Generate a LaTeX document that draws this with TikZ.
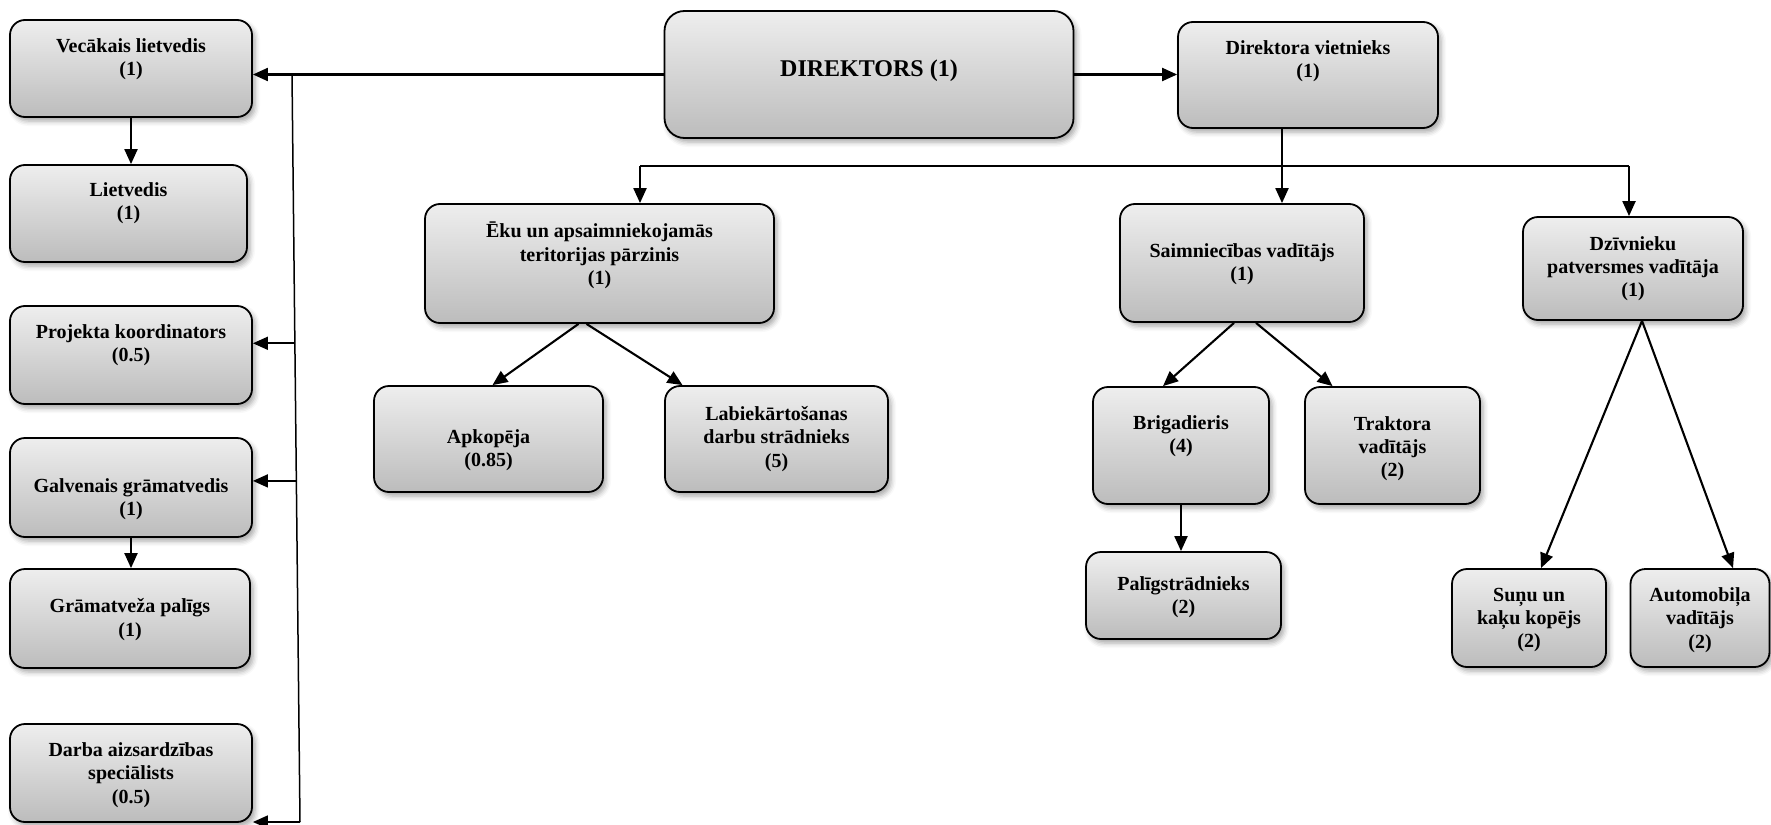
\documentclass[tikz,border=0pt]{standalone}
\usepackage{fontspec}
\setmainfont{Liberation Serif}
\usetikzlibrary{arrows.meta, shadows.blur, calc}

\definecolor{boxtop}{RGB}{238,238,238}
\definecolor{boxbottom}{RGB}{188,188,188}

\begin{document}
\begin{tikzpicture}[x=1pt,y=-1pt,>={Triangle[length=15pt,width=13pt]},
  org box/.style={draw,line width=1.8pt,rounded corners=15pt,top color=boxtop,bottom color=boxbottom,
    inner sep=0pt,blur shadow={shadow xshift=3pt,shadow yshift=-4pt,shadow blur radius=5pt,shadow opacity=35}},
  every label/.style={align=center,inner sep=0pt,font=\bfseries\fontsize{20}{23.3}\selectfont},
  conn/.style={->,line width=2.1pt},
  bus/.style={line width=1.5pt}]
  \useasboundingbox (0,0) rectangle (1771,824);

  % left column
  \node[org box,minimum width=242,minimum height=97,label={[yshift=9pt]center:{Vecākais lietvedis\\(1)}}] (vec) at (131,68.5) {};
  \node[org box,minimum width=237,minimum height=97,label={[yshift=10pt]center:{Lietvedis\\(1)}}] (lie) at (128.5,213.5) {};
  \node[org box,minimum width=242,minimum height=98,label={[yshift=10pt]center:{Projekta koordinators\\(0.5)}}] (prj) at (131,355) {};
  \node[org box,minimum width=242,minimum height=99,label={[yshift=-12pt]center:{Galvenais grāmatvedis\\(1)}}] (gal) at (131,487.5) {};
  \node[org box,minimum width=240,minimum height=99,label={[yshift=-1pt]center:{Grāmatveža palīgs\\(1)}}] (gra) at (130,618.5) {};
  \node[org box,minimum width=242,minimum height=98,label={[yshift=-2pt]center:{Darba aizsardzības\\speciālists\\(0.5)}}] (dar) at (131,773) {};

  % top
  \node[org box,minimum width=409,minimum height=127,rounded corners=20pt,
    label={[yshift=4pt,font=\bfseries\fontsize{24}{28}\selectfont]center:{DIREKTORS (1)}}] (dir) at (869,74.5) {};
  \node[org box,minimum width=260,minimum height=106,label={[yshift=14pt]center:{Direktora vietnieks\\(1)}}] (vie) at (1308,75) {};

  % second level
  \node[org box,minimum width=349,minimum height=119,label={[yshift=8pt]center:{Ēku un apsaimniekojamās\\teritorijas pārzinis\\(1)}}] (eku) at (599.5,263.5) {};
  \node[org box,minimum width=244,minimum height=118,label={[yshift=-1pt]center:{Saimniecības vadītājs\\(1)}}] (sai) at (1242,263) {};
  \node[org box,minimum width=220,minimum height=103,label={center:{Dzīvnieku\\patversmes vadītāja\\(1)}}] (dzi) at (1633,268.5) {};

  % third level
  \node[org box,minimum width=229,minimum height=106,label={[yshift=-11pt]center:{Apkopēja\\(0.85)}}] (apk) at (488.5,439) {};
  \node[org box,minimum width=223,minimum height=106,label={center:{Labiekārtošanas\\darbu strādnieks\\(5)}}] (lab) at (776.5,439) {};
  \node[org box,minimum width=176,minimum height=117,label={[yshift=9pt]center:{Brigadieris\\(4)}}] (bri) at (1181,445.5) {};
  \node[org box,minimum width=175,minimum height=117,label={[yshift=-3pt]center:{Traktora\\vadītājs\\(2)}}] (tra) at (1392.5,445.5) {};
  \node[org box,minimum width=195,minimum height=87,label={[yshift=-2pt]center:{Palīgstrādnieks\\(2)}}] (pal) at (1183.5,595.5) {};
  \node[org box,minimum width=154,minimum height=98,label={[yshift=-2pt]center:{Suņu un\\kaķu kopējs\\(2)}}] (sun) at (1529,618) {};
  \node[org box,minimum width=139,minimum height=98,label={[yshift=-2pt]center:{Automobiļa\\vadītājs\\(2)}}] (aut) at (1700,618) {};

  % left bus
  \coordinate (bustop) at (292,74);
  \coordinate (busbot) at (300,822);
  \coordinate (b1) at ($(bustop)!0.36!(busbot)$);
  \coordinate (b2) at ($(bustop)!0.544!(busbot)$);
  \draw[conn] (dir.west) -- (vec.east |- dir.west);
  \draw[bus] (bustop) -- (busbot);
  \draw[conn,line width=1.6pt] (b1) -- (b1 -| prj.east);
  \draw[conn,line width=1.6pt] (b2) -- (b2 -| gal.east);
  \draw[conn,line width=1.6pt] (busbot) -- (busbot -| dar.east);
  \draw[conn] (vec.south) -- (vec.south |- lie.north);
  \draw[conn] (gal.south) -- (gal.south |- gra.north);

  % right bus
  \coordinate (vd) at (1282,166);
  \coordinate (hl) at (640,166);
  \coordinate (hr) at (1629,166);
  \draw[conn] (dir.east) -- (vie.west |- dir.east);
  \draw[conn] (vie.south -| vd) -- (sai.north -| vd);
  \draw[bus,line width=2.1pt] (hl) -- (hr);
  \draw[conn] (hl) -- (eku.north -| hl);
  \draw[conn] (hr) -- (dzi.north -| hr);

  \draw[conn] ([xshift=-21pt]eku.south) -- ([xshift=4pt]apk.north);
  \draw[conn] ([xshift=-13pt]eku.south) -- ([xshift=-94pt]lab.north);
  \draw[conn] ([xshift=-8pt]sai.south) -- ([xshift=-18pt]bri.north);
  \draw[conn] ([xshift=14pt]sai.south) -- ([xshift=-60pt]tra.north);
  \draw[conn] (bri.south) -- (bri.south |- pal.north);
  \draw[conn] ([xshift=9pt]dzi.south) -- ([xshift=12pt]sun.north);
  \draw[conn] ([xshift=9pt]dzi.south) -- ([xshift=33pt]aut.north);
\end{tikzpicture}
\end{document}
